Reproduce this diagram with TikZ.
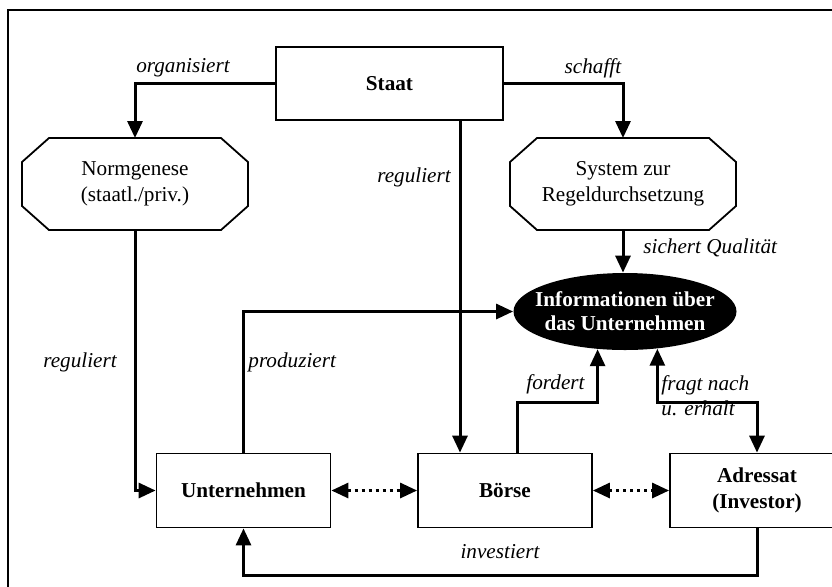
\documentclass[tikz,border=0pt]{standalone}
\usepackage{fontspec}
\setmainfont{Liberation Serif}
\usepackage{tikz}
\usetikzlibrary{positioning,arrows.meta,shapes.geometric,calc}

\begin{document}
\begin{tikzpicture}[x=0.5pt,y=-0.5pt,
    font=\fontsize{10.6}{12.8}\selectfont,
    box/.style={draw,line width=0.9pt,minimum width=87pt,minimum height=37pt,align=center,font=\fontsize{10.6}{12.8}\selectfont\bfseries},
    octa/.style={minimum width=113pt,minimum height=46pt,inner sep=0pt,outer sep=0pt,align=center},
    infoell/.style={ellipse,fill=black,minimum width=111.5pt,minimum height=38.5pt,inner sep=0pt},
    infotext/.style={text=white,align=center,font=\fontsize{10.6}{12}\selectfont\bfseries},
    lab/.style={inner sep=0pt,font=\fontsize{10.6}{12.8}\selectfont\itshape,align=left},
    arr/.style={line width=1.5pt,-{Triangle[length=8.5pt,width=7.5pt]}},
    darr/.style={line width=1.5pt,{Triangle[length=8.5pt,width=7.5pt]}-{Triangle[length=8.5pt,width=7.5pt]}},
    dotarr/.style={darr,dotted}]
    \clip (0,0) rectangle (832,586);
    % Frame
    \draw[line width=1pt] (8,10) rectangle (900,650);

    % Nodes
    \node[box,minimum width=113.5pt,minimum height=36.5pt] (staat) at (389.5,83.5) {Staat};
    \node[octa] (norm) at (135,184) {Normgenese\\(staatl./priv.)};
    \node[octa] (sys) at (623,184) {System zur\\Regeldurchsetzung};
    \node[infoell] (info) at (625,311.5) {};
    \node[infotext] at (info.center) {Informationen über\\das Unternehmen};
    \node[box] (unt) at (243.5,490.5) {Unternehmen};
    \node[box] (boerse) at (505,490.5) {Börse};
    \node[box] (adr) at (757,490.5) {Adressat\\(Investor)};

    % Octagon outlines
    \foreach \n in {norm,sys}
      \draw[line width=0.9pt] ([xshift=13.5pt]\n.north west) -- ([xshift=-13.5pt]\n.north east)
        -- ([yshift=-12pt]\n.north east) -- ([yshift=12pt]\n.south east)
        -- ([xshift=-13.5pt]\n.south east) -- ([xshift=13.5pt]\n.south west)
        -- ([yshift=12pt]\n.south west) -- ([yshift=-12pt]\n.north west) -- cycle;

    % Labels
    \node[lab] at (183,68) {organisiert};
    \node[lab] at (593,68) {schafft};
    \node[lab] at (414,177) {reguliert};
    \node[lab,anchor=west] at (643,248) {sichert Qualität};
    \node[lab] at (80,362) {reguliert};
    \node[lab,anchor=west] at (248,362) {produziert};
    \node[lab,anchor=east] at (585,384) {fordert};
    \node[lab,anchor=west] at (661,395.5) {fragt nach\\u. erhält};
    \node[lab] at (500,552) {investiert};

    % Connectors
    \coordinate (lvl) at (0,402);
    \draw[arr] (staat.west) -| (norm.north);
    \draw[arr] (staat.east) -| (sys.north);
    \draw[arr] ([xshift=35.25pt]staat.south) -- ([xshift=35.25pt]staat.south |- boerse.north);
    \draw[arr] (sys.south) -- (sys.south |- info.north);
    \draw[arr] (norm.south) |- (unt.west);
    \draw[arr] (unt.north) |- (info.west);
    \draw[arr] ([xshift=6pt]boerse.north) |- (lvl -| info.-126) -- (info.-126);
    \draw[darr] (info.-49) -- (info.-49 |- lvl) -| (adr.north);
    \draw[arr] (adr.south) -- ++(0,47) -| (unt.south);
    \draw[dotarr] (unt.east) -- (boerse.west);
    \draw[dotarr] (boerse.east) -- (adr.west);
\end{tikzpicture}
\end{document}
